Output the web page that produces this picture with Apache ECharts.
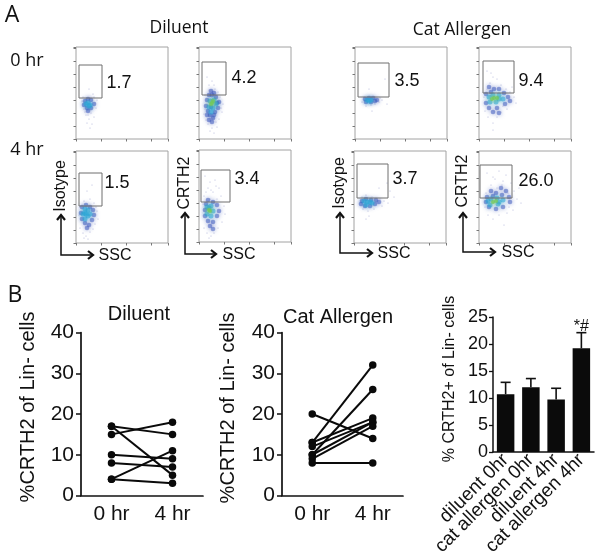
<!DOCTYPE html>
<html><head><meta charset="utf-8">
<style>html,body{margin:0;padding:0;background:#fff}#c{width:600px;height:560px}</style>
<script src="https://cdn.jsdelivr.net/npm/echarts@6/dist/echarts.min.js"></script></head>
<body><div id="c"></div>
<script>
// ---- Panel B data ----
const hours = ['0 hr', '4 hr'];
const diluentPairs = [[17,15],[17,5],[15,18],[10,9],[8,7],[4,11],[4,3]];
const catPairs = [[20,14],[13,32],[13,19],[12,18],[10,26],[10,18],[9,17],[8,8]];
const barCategories = ['diluent 0hr','cat allergen 0hr','diluent 4hr','cat allergen 4hr'];
const barMeans = [10.7,12,9.7,19.2];
const barTops = [12.9,13.6,11.8,22.1];
// ---- Panel A gates [x0,x1,y0,y1] and percentages ----
const gateLabels = ['1.7','4.2','1.5','3.4','3.5','9.4','3.7','26.0'];
const gates = [[3,26,41,74],[3,27,44,77],[3,26,37,70],[2,31,40,72],[3,34,42,76],[4,35,46,78],[3,34,45,79],[1,33,45,78]];
// ---- Panel A events: [x,y,density level 0-3] ----
const flow1 = [[6,38,0],[8,30,0],[19,36,0],[21,39,0],[10,24,0],[13,20,0],[15,26,0],[11,16,0],[16,15,0],[14,11,0],[18,22,0],[9,27,0],[20,31,0],[13,50,0],[17,45,0],[7,42,0],[18,42,0],[12,24,0],
 [9,38,1],[12,40,1],[15,39,1],[8,34,1],[11,31,1],[15,31,1],[18,35,1],[12,28,1],[12,36,2],[14,34,2],[10,35,2],[13,33,2]];
const flow2 = [[8,62,0],[13,58,0],[16,50,0],[19,47,0],[10,49,0],[6,44,0],[21,42,0],[24,35,0],[23,27,0],[5,25,0],[9,15,0],[13,11,0],[17,17,0],[20,20,0],[11,8,0],[15,6,0],[7,19,0],[18,12,0],[10,54,0],[15,54,0],[6,30,0],[22,31,0],
 [12,48,1],[15,46,1],[10,44,1],[17,42,1],[8,39,1],[20,37,1],[7,33,1],[19,31,1],[9,28,1],[16,27,1],[11,24,1],[14,21,1],[10,19,1],[13,17,1],[13,44,1],[8,24,1],[18,36,1],[12,32,1],[15,24,1],
 [11,38,2],[15,39,2],[10,32,2],[14,31,2],[17,35,2],[12,27,2],[13,36,3],[14,38,3],[12,35,3]];
const flow3 = [[4,36,0],[8,42,0],[14,44,0],[18,40,0],[21,32,0],[22,24,0],[4,15,0],[7,10,0],[10,7,0],[14,11,0],[17,14,0],[19,19,0],[8,5,0],[12,4,0],[11,52,0],[16,58,0],[3,28,0],[20,36,0],
 [6,36,1],[10,38,1],[14,36,1],[17,33,1],[5,30,1],[18,28,1],[6,24,1],[16,23,1],[9,20,1],[13,18,1],[11,15,1],[9,34,2],[12,33,2],[7,29,2],[12,27,2],[9,24,2],[14,29,2],[9,30,2],[10,29,2]];
const flow4 = [[6,66,0],[11,60,0],[16,62,0],[9,54,0],[20,54,0],[14,50,0],[5,46,0],[22,46,0],[18,43,0],[11,43,0],[25,36,0],[26,28,0],[23,20,0],[5,14,0],[8,9,0],[12,6,0],[15,9,0],[19,14,0],[10,4,0],[7,50,0],[12,52,0],[17,56,0],[4,38,0],
 [9,42,1],[14,40,1],[7,38,1],[18,37,1],[6,32,1],[20,31,1],[6,26,1],[18,26,1],[9,21,1],[14,20,1],[11,16,1],[14,13,1],
 [8,35,2],[12,36,2],[14,31,2],[8,28,2],[12,26,2],[10,32,3],[11,31,3],[10,34,2]];
const flow5 = [[9,42,0],[20,42,0],[25,41,0],[7,37,0],[24,37,0],[11,33,0],[16,34,0],[20,35,0],[27,39,0],[17,28,0],[14,50,0],[30,60,0],[32,35,0],
 [10,40,1],[14,41,1],[18,41,1],[22,39,1],[11,37,1],[16,37,1],[20,38,1],[12,39,2],[14,38,2],[16,39,2]];
const flow6 = [[8,68,0],[14,62,0],[11,56,0],[18,60,0],[22,54,0],[8,50,0],[27,50,0],[31,47,0],[35,42,0],[37,36,0],[6,28,0],[9,22,0],[14,16,0],[18,22,0],[22,27,0],[28,30,0],[14,9,0],[33,52,0],[12,66,0],[5,42,0],[24,33,0],
 [10,52,1],[15,50,1],[20,50,1],[25,46,1],[7,45,1],[29,42,1],[31,38,1],[7,36,1],[26,35,1],[10,31,1],[18,31,1],[14,27,1],[20,26,1],[12,47,1],
 [10,42,2],[14,44,2],[20,44,2],[24,40,2],[11,37,2],[17,37,2],[15,41,3],[18,41,3],[13,40,3],[20,40,2]];
const flow7 = [[8,46,0],[12,48,0],[18,46,0],[26,44,0],[30,42,0],[34,40,0],[28,37,0],[9,34,0],[14,32,0],[20,34,0],[15,27,0],[40,46,0],[36,52,0],[33,60,0],[25,55,0],[12,24,0],
 [8,42,1],[12,44,1],[17,43,1],[22,43,1],[7,39,1],[11,37,1],[16,37,1],[21,39,1],[25,41,1],[10,42,2],[13,41,2],[16,41,2],[12,38,2],[18,40,2]];
const flow8 = [[8,70,0],[14,66,0],[20,72,0],[27,68,0],[32,60,0],[12,58,0],[24,62,0],[7,50,0],[35,52,0],[38,44,0],[42,40,0],[6,36,0],[9,28,0],[14,24,0],[20,28,0],[28,30,0],[34,33,0],[18,55,0],[29,50,0],[25,18,0],[40,55,0],[12,46,0],[16,64,0],[23,58,0],[30,36,0],
 [12,52,1],[17,50,1],[22,55,1],[27,52,1],[8,46,1],[14,47,1],[23,48,1],[30,46,1],[7,41,1],[31,41,1],[10,36,1],[17,34,1],[24,36,1],
 [9,42,2],[12,44,2],[18,45,2],[24,43,2],[11,38,2],[19,39,2],[14,41,3],[17,42,3],[20,41,2]];
const flowData = [flow1,flow2,flow3,flow4,flow5,flow6,flow7,flow8];

const flowBoxes = [[76,47,92,92],[199,47,92,92],[76,151,92,92],[199,150,92,92],[355,47,92,92],[479,47,92,92],[354,151,92,92],[479,151,92,92]];
const sans = '"Liberation Sans",Arial,sans-serif';
const densityColor = ['#7d84c4','#3a55bc','#2ba6d6','#74c85e'];
const densitySize = [1.2,4.6,5,4];
const densityOpacity = [.6,.5,.55,.8];
const densityBlur = [0,4,4,4];

const grids=[],xAxes=[],yAxes=[],series=[],graphics=[];
flowBoxes.forEach((b,i)=>{
  grids.push({left:b[0],top:b[1],width:b[2],height:b[3],show:true,borderColor:'#a2a2a2',borderWidth:1,backgroundColor:'#fff'});
  const tick={show:true,length:2.5,inside:false,lineStyle:{color:'#777',width:1}};
  xAxes.push({gridIndex:i,type:'value',min:0,max:92,interval:25,axisLine:{show:false},axisTick:tick,axisLabel:{show:false},splitLine:{show:false}});
  yAxes.push({gridIndex:i,type:'value',min:0,max:92,interval:13,axisLine:{show:false},axisTick:tick,axisLabel:{show:false},splitLine:{show:false}});
  [1,2,3,0].forEach(level=>{
    series.push({type:'scatter',xAxisIndex:i,yAxisIndex:i,silent:true,animation:false,
      data:flowData[i].filter(p=>p[2]===level).map(p=>[p[0],p[1]]),
      symbolSize:densitySize[level],
      itemStyle:{color:densityColor[level],opacity:densityOpacity[level],shadowBlur:densityBlur[level],shadowColor:densityColor[level]}});
  });
  const g=gates[i];
  series.push({type:'line',xAxisIndex:i,yAxisIndex:i,silent:true,animation:false,symbol:'none',z:5,
    data:[[g[0],g[2]],[g[1],g[2]],[g[1],g[3]],[g[0],g[3]],[g[0],g[2]]],
    lineStyle:{color:'#6e6e6e',width:1}});
});

// panel B paired plots
function paired(idx,left,width,pairs){
  grids.push({left:left,top:332.5,width:width,height:163});
  xAxes.push({gridIndex:idx,type:'category',data:hours,boundaryGap:true,
    axisLine:{lineStyle:{color:'#111',width:1.7}},axisTick:{alignWithLabel:true,length:5,lineStyle:{color:'#111',width:1.5}},
    axisLabel:{fontFamily:sans,fontSize:21,color:'#111',margin:8}});
  yAxes.push({gridIndex:idx,type:'value',min:0,max:40,interval:10,
    axisLine:{show:true,lineStyle:{color:'#111',width:1.7}},axisTick:{show:true,length:5,lineStyle:{color:'#111',width:1.5}},
    axisLabel:{fontFamily:sans,fontSize:21,color:'#111',margin:7},splitLine:{show:false}});
  pairs.forEach(p=>series.push({type:'line',xAxisIndex:idx,yAxisIndex:idx,data:p,animation:false,silent:true,
    symbol:'circle',symbolSize:7.5,showAllSymbol:true,itemStyle:{color:'#0a0a0a'},lineStyle:{color:'#0a0a0a',width:2}}));
}
paired(8,81,122,diluentPairs);
paired(9,282,121,catPairs);

// panel B bars
grids.push({left:493,top:317,width:101,height:135});
xAxes.push({gridIndex:10,type:'category',data:barCategories,
  axisLine:{lineStyle:{color:'#111',width:1.5}},axisTick:{alignWithLabel:true,length:4,lineStyle:{color:'#111',width:1.3}},
  axisLabel:{fontFamily:sans,fontSize:19,color:'#111',rotate:45,margin:5,interval:0}});
yAxes.push({gridIndex:10,type:'value',min:0,max:25,interval:5,
  axisLine:{show:true,lineStyle:{color:'#111',width:1.5}},axisTick:{show:true,length:4,lineStyle:{color:'#111',width:1.3}},
  axisLabel:{fontFamily:sans,fontSize:18,color:'#111',margin:5},splitLine:{show:false}});
series.push({type:'bar',xAxisIndex:10,yAxisIndex:10,data:barMeans,barWidth:17.5,animation:false,silent:true,itemStyle:{color:'#0b0b0b'},
  markPoint:{silent:true,symbolSize:0,animation:false,data:[{coord:[3,23.3],label:{show:true,formatter:'*#',position:'inside',fontFamily:sans,fontSize:16,color:'#111'}}]}});
series.push({type:'custom',xAxisIndex:10,yAxisIndex:10,animation:false,silent:true,z:1,
  data:barMeans.map((m,i)=>[i,m,barTops[i]]),
  renderItem:(p,api)=>{
    const a=api.coord([api.value(0),api.value(1)]),b=api.coord([api.value(0),api.value(2)]);
    const st={stroke:'#111',lineWidth:1.6,fill:null};
    return {type:'group',children:[
      {type:'line',shape:{x1:a[0],y1:a[1],x2:b[0],y2:b[1]},style:st},
      {type:'line',shape:{x1:b[0]-5,y1:b[1],x2:b[0]+5,y2:b[1]},style:st}]};
  }});

// text annotations
function text(t,x,y,size,font,rot,color){
  graphics.push({type:'text',x:x,y:y,rotation:rot?rot*Math.PI/180:0,z:20,
    style:{text:t,fontSize:size,fontFamily:font||sans,fill:color||'#111',align:'center',verticalAlign:'middle'}});
}
const lato='"Open Sans",sans-serif';
text('A',12,15,23,lato); text('B',15,295,23,lato);
text('Diluent',179,28,17.5,lato); text('Cat Allergen',462,30,17.5,lato);
text('0 hr',27,61,18,lato); text('4 hr',27,150,18,lato);
[[119,83],[244,78],[117,183],[247,179],[407,81],[531,81],[405,179],[536,181]].forEach((p,i)=>text(gateLabels[i],p[0],p[1],18));
text('Diluent',139,314,20); text('Cat Allergen',338,317,20);
text('%CRTH2 of Lin- cells',28,407,20,sans,90);
text('%CRTH2 of Lin- cells',228,408,20,sans,90);
text('% CRTH2+ of Lin- cells',450,379,16,sans,90);

// SSC / marker arrows
[[61,215,255,93,115,'Isotype',186],[185,213,254,216,239,'CRTH2',183],[340,213,253,372,394,'Isotype',183],[463,213,252,495,518,'CRTH2',181]].forEach(a=>{
  const [x,yt,yb,xr,sx,name,ny]=a;
  graphics.push({type:'polyline',z:20,shape:{points:[[x,yt],[x,yb],[xr,yb]]},style:{stroke:'#111',lineWidth:1.5,fill:null}});
  graphics.push({type:'polyline',z:20,shape:{points:[[x-4,yt+5],[x,yt],[x+4,yt+5]]},style:{stroke:'#111',lineWidth:2.2,fill:null}});
  graphics.push({type:'polyline',z:20,shape:{points:[[xr-5,yb-4],[xr,yb],[xr-5,yb+4]]},style:{stroke:'#111',lineWidth:2.2,fill:null}});
  text('SSC',sx,yb+1,16);
  text(name,x,ny,16,sans,90);
});

const chart=echarts.init(document.getElementById('c'),null,{renderer:'canvas'});
chart.setOption({animation:false,backgroundColor:'#fff',grid:grids,xAxis:xAxes,yAxis:yAxes,series:series,graphic:{elements:graphics}});
</script></body></html>
